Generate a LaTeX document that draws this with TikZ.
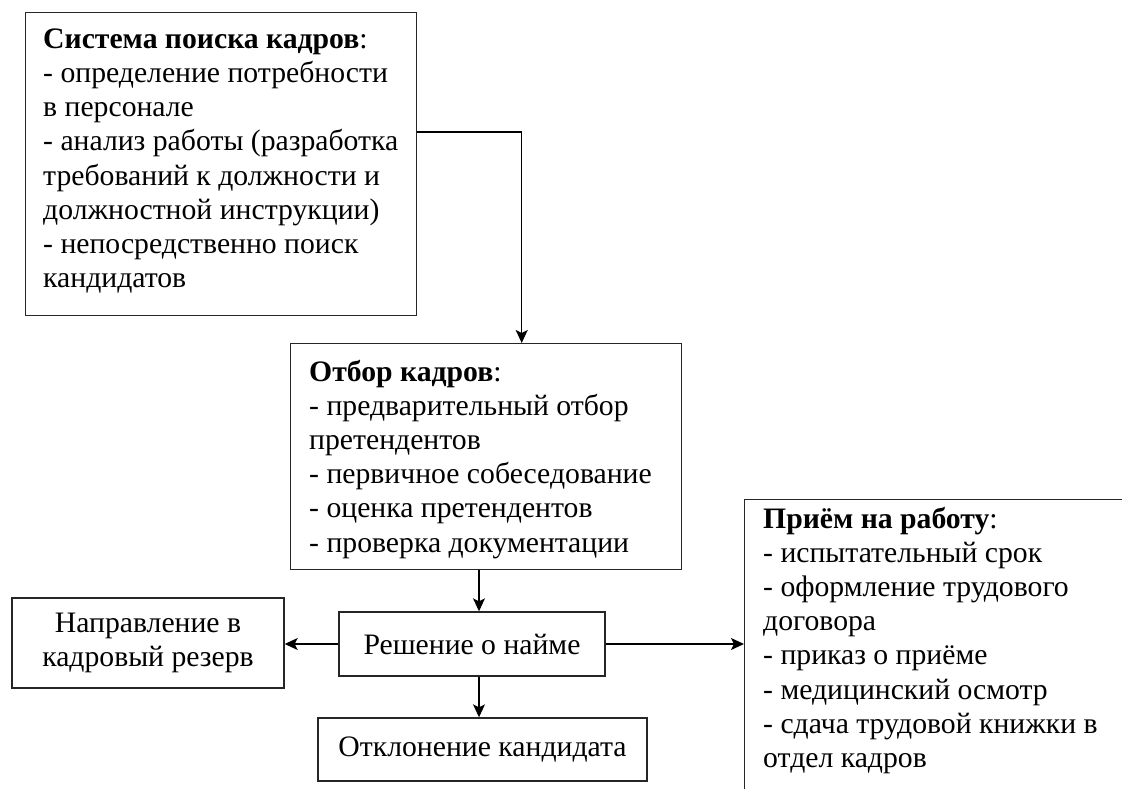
\documentclass[tikz,border=0pt]{standalone}
\usepackage{fontspec}
\setmainfont{Liberation Serif}
\usetikzlibrary{arrows.meta,calc}
\begin{document}
\begin{tikzpicture}[x=1pt,y=1pt,
  box/.style={draw=black!85,line width=1.4pt,inner sep=0pt,anchor=north west},
  txt/.style={inner sep=0pt,anchor=north west,align=left,font=\fontsize{29.7}{34.2}\selectfont},
  ctxt/.style={draw=black!85,line width=1.4pt,inner sep=0pt,align=center,font=\fontsize{29.7}{34.2}\selectfont},
  arr/.style={line width=1.3pt,-{Stealth[length=13pt,width=12pt,inset=3pt]}}]
\clip (0,0) rectangle (1122,-789);
\fill[white] (0,0) rectangle (1122,-789);
% boxes
\node[box,minimum width=391pt,minimum height=303pt] (b1) at (25,-12) {};
\node[txt] (t1) at (43,-24.1) {\strut\textbf{Система поиска кадров}:\\
- определение потребности\\
в персонале\\
- анализ работы (разработка\\
требований к должности и\\
должностной инструкции)\\
- непосредственно поиск\\
кандидатов};
\node[box,minimum width=391pt,minimum height=226pt] (b2) at (290,-343) {};
\node[txt] (t2) at (309,-357) {\strut\textbf{Отбор кадров}:\\
- предварительный отбор\\
претендентов\\
- первичное собеседование\\
- оценка претендентов\\
- проверка документации};
\node[box,minimum width=420pt,minimum height=320pt] (b3) at (744,-499) {};
\node[txt] (t3) at (763,-504) {\strut\textbf{Приём на работу}:\\
- испытательный срок\\
- оформление трудового\\
договора\\
- приказ о приёме\\
- медицинский осмотр\\
- сдача трудовой книжки в\\
отдел кадров};
\node[ctxt,minimum width=266pt,minimum height=64pt] (r) at (472,-644) {Решение о найме};
\node[ctxt,minimum width=272pt,minimum height=90pt] (n) at (148,-643) {Направление в\\кадровый резерв};
\node[ctxt,minimum width=329pt,minimum height=63pt] (o) at (482.5,-749.5) {Отклонение кандидата};
\coordinate (ax) at (479,0);
% connectors
\draw[arr] ([yshift=-120pt]b1.north east) -| ([xshift=35.5pt]b2.north);
\draw[arr] (b2.south -| ax) -- (r.north -| ax);
\draw[arr] (r.south -| ax) -- (o.north -| ax);
\draw[arr] (r.west) -- (r.west -| n.east);
\draw[arr] (r.east) -- (r.east -| b3.west);
\end{tikzpicture}
\end{document}
